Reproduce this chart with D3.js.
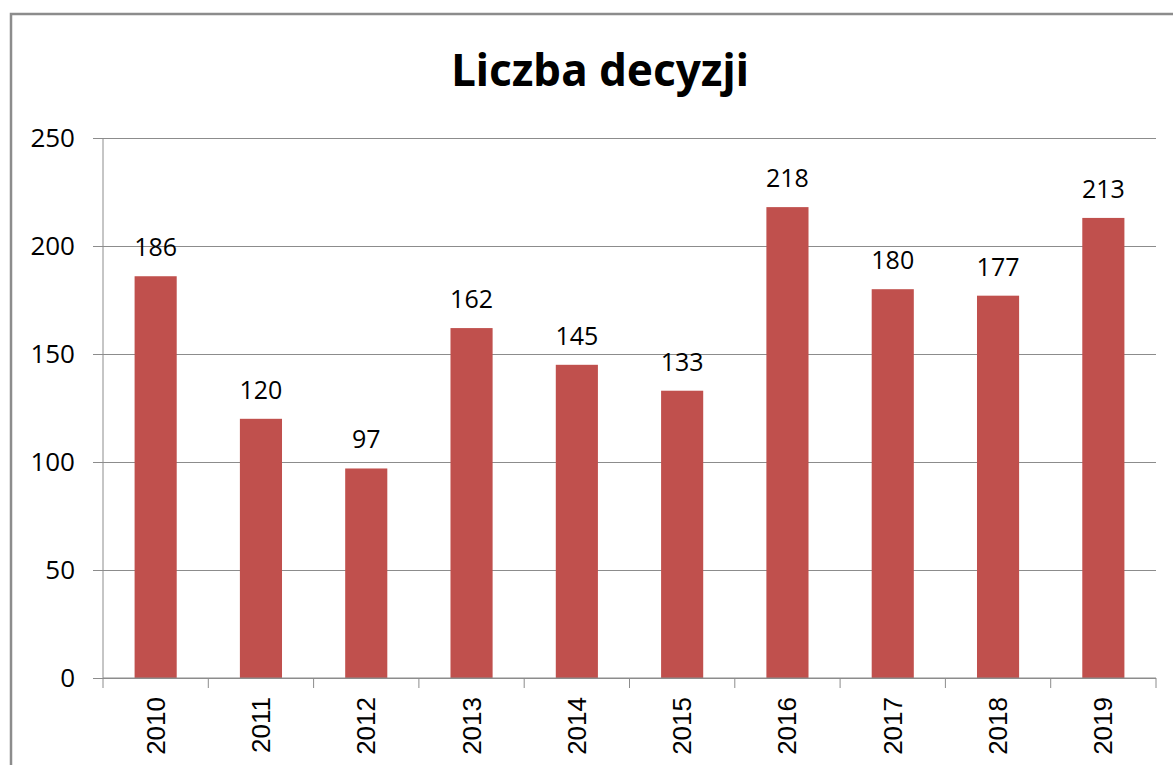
<!DOCTYPE html>
<html>
<head>
<meta charset="utf-8">
<script src="https://cdn.jsdelivr.net/npm/d3@7"></script>
<style>
  body { margin: 0; background: #fff; }
  svg { display: block; }
</style>
</head>
<body>
<svg id="chart" width="1173" height="765"></svg>
<script>
// chart data
const years = ['2010', '2011', '2012', '2013', '2014', '2015', '2016', '2017', '2018', '2019'];
const decisions = [186, 120, 97, 162, 145, 133, 218, 180, 177, 213];
const yTicks = [0, 50, 100, 150, 200, 250];
const title = 'Liczba decyzji';

const svg = d3.select('#chart');
const plotL = 103, plotR = 1156, plotT = 138, plotB = 678;

// outer frame (only left and top edges are visible)
svg.append('path')
    .attr('d', 'M11,765 V14 H1173')
    .attr('fill', 'none')
    .attr('stroke', '#8c8c8c')
    .attr('stroke-width', 2.5);

svg.append('text')
    .attr('x', 600)
    .attr('y', 86)
    .attr('text-anchor', 'middle')
    .attr('font-family', 'Noto Sans, sans-serif')
    .attr('font-weight', 'bold')
    .attr('font-size', 44)
    .text(title);

let x = d3.scaleBand()
    .domain(years)
    .range([plotL, plotR])
    .paddingInner(0.6)
    .paddingOuter(0.3);
let y = d3.scaleLinear()
    .domain([0, 250])
    .range([plotB, plotT]);

// y axis with gridlines
let yAxis = svg.append('g')
    .attr('transform', 'translate(' + plotL + ',0)')
    .call(d3.axisLeft(y).tickValues(yTicks).tickSize(-(plotR - plotL)).tickSizeOuter(0).tickPadding(28));
yAxis.select('.domain').remove();
yAxis.selectAll('.tick line')
    .attr('stroke', '#8c8c8c')
    .attr('x1', -10);
yAxis.selectAll('.tick text')
    .attr('font-family', 'Open Sans, sans-serif')
    .attr('font-size', 26)
    .attr('fill', '#000');
svg.append('line')
    .attr('x1', plotL).attr('x2', plotL)
    .attr('y1', plotT).attr('y2', plotB)
    .attr('stroke', '#8c8c8c');

// bars
svg.selectAll('.bar')
    .data(decisions)
    .enter()
    .append('rect')
        .attr('class', 'bar')
        .attr('x', function(d, i){ return x(years[i]); })
        .attr('y', function(d){ return y(d); })
        .attr('width', x.bandwidth())
        .attr('height', function(d){ return y(0) - y(d); })
        .attr('fill', '#c0504d');

// value labels
svg.selectAll('.val')
    .data(decisions)
    .enter()
    .append('text')
        .attr('class', 'val')
        .attr('x', function(d, i){ return x(years[i]) + x.bandwidth() / 2; })
        .attr('y', function(d){ return y(d) - 20; })
        .attr('text-anchor', 'middle')
        .attr('font-family', 'Open Sans, sans-serif')
        .attr('font-size', 25)
        .text(function(d){ return d; });

// x axis: ticks at category boundaries, rotated labels
let step = (plotR - plotL) / years.length;
let xg = svg.append('g');
xg.append('line')
    .attr('x1', plotL).attr('x2', plotR)
    .attr('y1', plotB).attr('y2', plotB)
    .attr('stroke', '#8c8c8c');
xg.selectAll('.xtick')
    .data(d3.range(years.length + 1))
    .enter()
    .append('line')
        .attr('x1', function(i){ return plotL + i * step; })
        .attr('x2', function(i){ return plotL + i * step; })
        .attr('y1', plotB).attr('y2', plotB + 10)
        .attr('stroke', '#8c8c8c');
xg.selectAll('.xlab')
    .data(years)
    .enter()
    .append('text')
        .attr('transform', function(d){
            return 'translate(' + (x(d) + x.bandwidth() / 2 + 9) + ',' + (plotB + 19) + ') rotate(-90)';
        })
        .attr('text-anchor', 'end')
        .attr('font-family', 'Liberation Sans, Arial, sans-serif')
        .attr('font-size', 26)
        .text(function(d){ return d; });
</script>
</body>
</html>
